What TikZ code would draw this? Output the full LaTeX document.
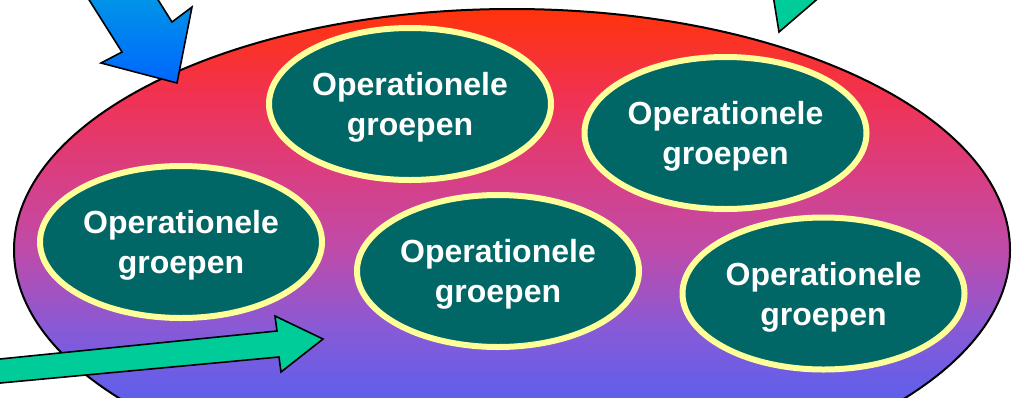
\documentclass[tikz,border=0pt]{standalone}
\usepackage{fontspec}
\setmainfont{Liberation Sans}
\usetikzlibrary{shapes.geometric}
\definecolor{groepgroen}{RGB}{0,102,102}
\definecolor{randgeel}{RGB}{255,255,153}
\definecolor{pijlgroen}{RGB}{0,204,153}
\definecolor{pijllicht}{RGB}{0,150,230}
\definecolor{pijlblauw}{RGB}{0,102,255}
% kleurverloop van de organisatie, van onder naar boven
\definecolor{orgA}{RGB}{60,100,255}
\definecolor{orgB}{RGB}{95,95,235}
\definecolor{orgC}{RGB}{135,90,215}
\definecolor{orgD}{RGB}{190,75,170}
\definecolor{orgE}{RGB}{212,65,140}
\definecolor{orgF}{RGB}{240,50,85}
\definecolor{orgG}{RGB}{255,51,10}
\pgfdeclareverticalshading{orgverloop}{100bp}{color(0bp)=(orgA); color(25bp)=(orgA);
    color(34.8bp)=(orgB); color(41.7bp)=(orgC); color(50bp)=(orgD);
    color(56.2bp)=(orgE); color(65.6bp)=(orgF); color(75bp)=(orgG); color(100bp)=(orgG)}

\begin{document}
\begin{tikzpicture}[x=1pt,y=-1pt,
    groep/.style={ellipse, draw=randgeel, line width=6pt, fill=groepgroen,
        minimum width=282pt, minimum height=152pt, inner sep=0pt, text depth=-3pt,
        text=white, align=center, font=\fontsize{32}{40}\selectfont\bfseries},
    blokpijl/.style={draw=black, line width=1.6pt, line join=miter}]
    \useasboundingbox (0,0) rectangle (1019,397);

    % de organisatie
    \node[ellipse, draw=black, line width=2pt, minimum width=996pt, minimum height=482pt,
        shading=orgverloop] (org) at (512,250) {};

    % pijlen naar binnen en naar buiten
    \draw[blokpijl, top color=pijllicht, bottom color=pijlblauw]
        (86,-5) -- (122,52) -- (101,63) -- (177,83) -- (192,7) -- (172,22) -- (155,-5) -- cycle;
    \draw[blokpijl, fill=pijlgroen] (773,-5) -- (779,32) -- (822,-5) -- cycle;
    \draw[blokpijl, fill=pijlgroen]
        (-5,383.5) -- (279,357) -- (281,372) -- (323,339) -- (275,316) -- (277,331) -- (-5,359.5) -- cycle;

    % de groepen
    \node[groep] (groep1) at (410,104) {Operationele\\groepen};
    \node[groep] (groep2) at (725.5,133) {Operationele\\groepen};
    \node[groep] (groep3) at (181,242) {Operationele\\groepen};
    \node[groep] (groep4) at (498,271) {Operationele\\groepen};
    \node[groep] (groep5) at (823.5,293.5) {Operationele\\groepen};
\end{tikzpicture}
\end{document}
